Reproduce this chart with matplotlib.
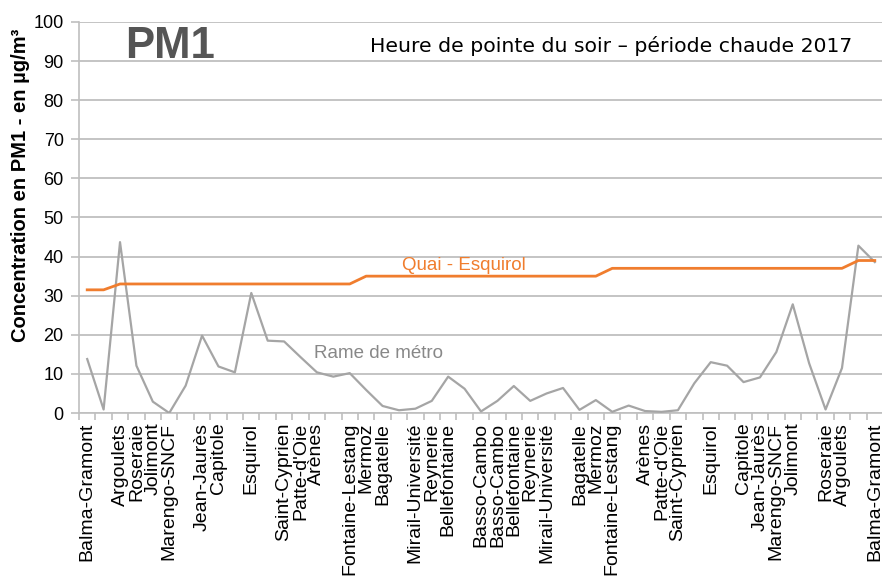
import matplotlib
matplotlib.use('Agg')
import matplotlib.pyplot as plt
import numpy as np

plt.rcParams['font.family'] = ['Liberation Sans', 'DejaVu Sans']

# station labels along the trip (blank = point between stations)
stations = ['Balma-Gramont', '', 'Argoulets', 'Roseraie', 'Jolimont', 'Marengo-SNCF', '',
            'Jean-Jaurès', 'Capitole', '', 'Esquirol', '', 'Saint-Cyprien', "Patte-d'Oie",
            'Arènes', '', 'Fontaine-Lestang', 'Mermoz', 'Bagatelle', '', 'Mirail-Université',
            'Reynerie', 'Bellefontaine', '', 'Basso-Cambo', 'Basso-Cambo', 'Bellefontaine',
            'Reynerie', 'Mirail-Université', '', 'Bagatelle', 'Mermoz', 'Fontaine-Lestang', '',
            'Arènes', "Patte-d'Oie", 'Saint-Cyprien', '', 'Esquirol', '', 'Capitole',
            'Jean-Jaurès', 'Marengo-SNCF', 'Jolimont', '', 'Roseraie', 'Argoulets', '',
            'Balma-Gramont']

rame = [13.8, 0.9, 43.7, 12.1, 2.9, 0.0, 7.0, 19.8, 11.9, 10.4,
        30.7, 18.5, 18.3, 14.3, 10.4, 9.3, 10.2, 5.9, 1.8, 0.7,
        1.1, 3.1, 9.3, 6.2, 0.4, 3.1, 6.9, 3.1, 5.0, 6.4,
        0.8, 3.3, 0.3, 1.9, 0.5, 0.3, 0.7, 7.6, 13.0, 12.1,
        7.9, 9.1, 15.6, 27.8, 12.7, 0.9, 11.5, 42.8, 38.6]

quai = [31.5, 31.5, 33, 33, 33, 33, 33, 33, 33, 33,
        33, 33, 33, 33, 33, 33, 33, 35, 35, 35,
        35, 35, 35, 35, 35, 35, 35, 35, 35, 35,
        35, 35, 37, 37, 37, 37, 37, 37, 37, 37,
        37, 37, 37, 37, 37, 37, 37, 39, 39]

yticks = [0, 10, 20, 30, 40, 50, 60, 70, 80, 90, 100]

grey = '#A5A5A5'
orange = '#F07D2E'

fig = plt.figure(figsize=(8.82, 5.77), dpi=100)
ax = fig.add_axes([79 / 882, 1 - 413 / 577, 804 / 882, 391 / 577])

x = np.arange(len(stations))
ax.plot(x, rame, color=grey, lw=1.6, zorder=3)
ax.plot(x, quai, color=orange, lw=2.0, zorder=4)

ax.set_xlim(-0.5, len(stations) - 0.5)
ax.set_ylim(0, 100)
ax.set_yticks(yticks)
ax.set_yticklabels([str(v) for v in yticks], fontsize=13)
ax.set_xticks(x)
ax.set_xticklabels(stations, rotation=90, fontsize=14, va='top', ha='center')
ax.tick_params(axis='x', which='major', length=0, pad=7)
ax.set_xticks(np.arange(-0.5, len(stations), 1), minor=True)
ax.tick_params(axis='x', which='minor', length=5, color='#BFBFBF', width=1.2)
ax.tick_params(axis='y', length=6, color='#BFBFBF', width=1.2, pad=5)

ax.grid(axis='y', color='#BFBFBF', lw=1.3, zorder=0)
for s in ['top', 'right']:
    ax.spines[s].set_visible(False)
ax.spines['left'].set_color('#BFBFBF')
ax.spines['bottom'].set_color('#BFBFBF')
ax.spines['left'].set_linewidth(1.2)
ax.spines['bottom'].set_linewidth(1.2)

fig.text(21 / 882, 1 - 185 / 577, 'Concentration en PM1 - en µg/m³', rotation=90,
         ha='center', va='center', fontsize=14.5, fontweight='bold')

fig.text(852 / 882, 1 - 46 / 577, 'Heure de pointe du soir – période chaude 2017',
         ha='right', va='center', fontsize=14.7, family=['DejaVu Sans'])
fig.text(125 / 882, 1 - 58 / 577, 'PM1', ha='left', va='baseline', fontsize=31.5,
         fontweight='bold', color='#555555', zorder=5)

ax.text(19.2, 37.6, 'Quai - Esquirol', color=orange, fontsize=13.5, ha='left', va='center')
ax.text(13.8, 15.3, 'Rame de métro', color='#888888', fontsize=13.5, ha='left', va='center')

fig.savefig('out.png', dpi=100)
